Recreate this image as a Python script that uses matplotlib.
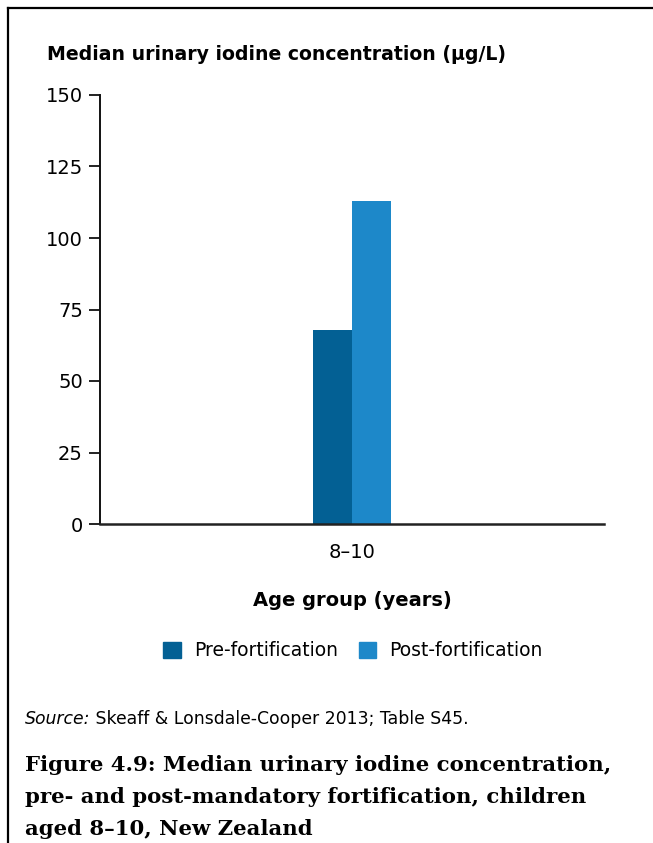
import matplotlib
matplotlib.use("Agg")
import matplotlib.pyplot as plt
from matplotlib.lines import Line2D
import numpy as np

categories = ["8–10"]
series_names = ["Pre-fortification", "Post-fortification"]
pre_values = [68]
post_values = [113]
y_ticks = [0, 25, 50, 75, 100, 125, 150]
colors = ["#036094", "#1D88C9"]

plt.rcParams['font.family'] = ['DejaVu Sans']
W, H = 653, 843
fig = plt.figure(figsize=(W / 100, H / 100), dpi=100)

ax = fig.add_axes([100 / W, 1 - 524 / H, 504 / W, 429 / H])
x = np.arange(len(categories))
bw = 0.0774
ax.bar(x - bw / 2, pre_values, width=bw, color=colors[0], label=series_names[0])
ax.bar(x + bw / 2, post_values, width=bw, color=colors[1], label=series_names[1])

ax.set_xlim(-0.5, 0.5)
ax.set_ylim(0, 150)
ax.set_yticks(y_ticks)
ax.set_xticks(x)
ax.set_xticklabels(categories)
ax.tick_params(axis='y', length=8, width=1.3, pad=4.3, labelsize=14, color='#111111')
ax.tick_params(axis='x', length=0, pad=14, labelsize=14)
for s in ['top', 'right']:
    ax.spines[s].set_visible(False)
ax.spines['left'].set_linewidth(1.4)
ax.spines['left'].set_color('#111111')
ax.spines['bottom'].set_linewidth(1.8)
ax.spines['bottom'].set_color('#222222')

fig.text(47 / W, 1 - 54 / H, "Median urinary iodine concentration (µg/L)",
         fontsize=13.6, fontweight='bold', ha='left', va='center')
fig.text(352 / W, 1 - 601 / H, "Age group (years)",
         fontsize=14, fontweight='bold', ha='center', va='center')

handles = [plt.Rectangle((0, 0), 1, 1, color=c) for c in colors]
fig.legend(handles, series_names, loc='center', bbox_to_anchor=(353 / W, 1 - 651 / H),
           ncol=2, frameon=False, fontsize=13.5, handlelength=0.95, handleheight=0.95,
           handletextpad=0.7, columnspacing=1.1, borderpad=0, borderaxespad=0)

t1 = fig.text(25 / W, 1 - 719 / H, "Source:", fontsize=12.4, style='italic',
              ha='left', va='center')
ax.annotate(" Skeaff & Lonsdale-Cooper 2013; Table S45.", xy=(1, 0.5), xycoords=t1,
            fontsize=12.4, ha='left', va='center', annotation_clip=False)

title_lines = ["Figure 4.9: Median urinary iodine concentration,",
               "pre- and post-mandatory fortification, children",
               "aged 8–10, New Zealand"]
for i, line in enumerate(title_lines):
    fig.text(25 / W, 1 - (765 + 32 * i) / H, line, fontsize=15.3, fontweight='bold',
             family=['DejaVu Serif'], ha='left', va='center')

# frame lines: top and left only
fig.add_artist(Line2D([7.5 / W, 1], [1 - 8 / H, 1 - 8 / H], color='black', lw=1.6,
                      transform=fig.transFigure))
fig.add_artist(Line2D([7.5 / W, 7.5 / W], [0, 1 - 8 / H], color='black', lw=1.6,
                      transform=fig.transFigure))

fig.savefig("out.png", dpi=100)
